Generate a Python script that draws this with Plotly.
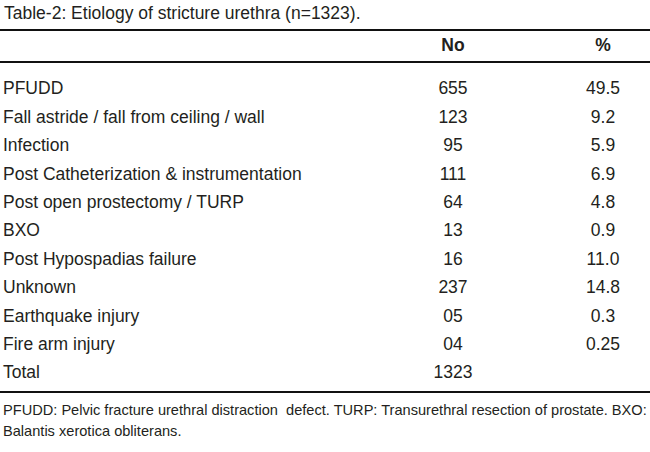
import plotly.graph_objects as go

# ── data ─────────────────────────────────────────────────────────────────────
title_text = "Table-2: Etiology of stricture urethra (n=1323)."
col_headers = ["No", "%"]
causes = [
    "PFUDD",
    "Fall astride / fall from ceiling / wall",
    "Infection",
    "Post Catheterization & instrumentation",
    "Post open prostectomy / TURP",
    "BXO",
    "Post Hypospadias failure",
    "Unknown",
    "Earthquake injury",
    "Fire arm injury",
    "Total",
]
counts = ["655", "123", "95", "111", "64", "13", "16", "237", "05", "04", "1323"]
percents = ["49.5", "9.2", "5.9", "6.9", "4.8", "0.9", "11.0", "14.8", "0.3", "0.25", ""]
footnotes = [
    "PFUDD: Pelvic fracture urethral distraction  defect. TURP: Transurethral resection of prostate. BXO:",
    "Balantis xerotica obliterans.",
]

# ── layout constants (pixels) ────────────────────────────────────────────────
W, H = 650, 452
ROW0_Y = 90      # centre of first body row
ROW_H = 28.4     # row pitch
COL_X = [453, 603]
FONT = "Liberation Sans, Arial, sans-serif"
INK = "#231f20"
FS = 17.5


def row_of(px):
    """pixel y -> row-index coordinate on the y axis"""
    return (px - ROW0_Y) / ROW_H


rows = list(range(len(causes)))

fig = go.Figure()

# row labels
fig.add_trace(go.Scatter(
    x=[3] * len(causes), y=rows, mode="text", text=causes,
    textposition="middle right", textfont=dict(family=FONT, size=FS, color=INK),
    hoverinfo="skip", showlegend=False,
))
# No / % columns
for cx, vals in zip(COL_X, [counts, percents]):
    fig.add_trace(go.Scatter(
        x=[cx] * len(vals), y=rows, mode="text", text=vals,
        textposition="middle center", textfont=dict(family=FONT, size=FS, color=INK),
        hoverinfo="skip", showlegend=False,
    ))
# header
fig.add_trace(go.Scatter(
    x=COL_X, y=[row_of(47)] * 2, mode="text",
    text=[f"<b>{h}</b>" for h in col_headers],
    textposition="middle center", textfont=dict(family=FONT, size=FS, color=INK),
    hoverinfo="skip", showlegend=False,
))

# title + footnotes
fig.add_annotation(x=2, y=row_of(13), text=title_text, showarrow=False,
                   xanchor="left", yanchor="middle",
                   font=dict(family=FONT, size=FS, color=INK))
for i, line in enumerate(footnotes):
    fig.add_annotation(x=1, y=row_of(410 + 21 * i), text=line, showarrow=False,
                       xanchor="left", yanchor="middle",
                       font=dict(family=FONT, size=14.6, color=INK))

# horizontal rules
for py in [30, 62, 392]:
    fig.add_shape(type="line", xref="x", yref="y", x0=0, x1=W,
                  y0=row_of(py), y1=row_of(py), line=dict(color="#111", width=2.2))

fig.update_xaxes(range=[0, W], visible=False, fixedrange=True)
fig.update_yaxes(range=[row_of(H), row_of(0)], visible=False, fixedrange=True)
fig.update_layout(
    width=W, height=H,
    margin=dict(l=0, r=0, t=0, b=0),
    paper_bgcolor="white", plot_bgcolor="white",
)

# drop the default 8px page margin so the figure sits at the window corner
fig.write_html("out.html", config={"displayModeBar": False},
               post_script="document.body.style.margin='0';")
